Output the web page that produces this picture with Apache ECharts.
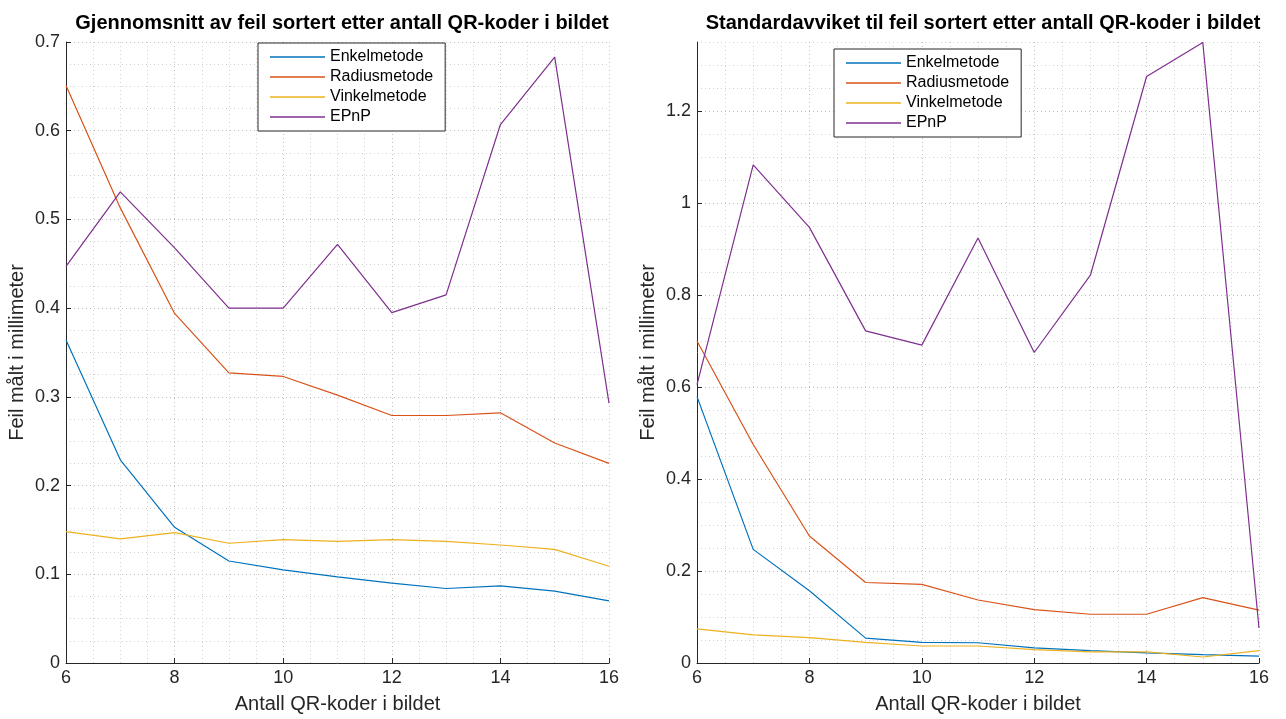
<!DOCTYPE html>
<html>
<head>
	<meta charset="utf-8" />
	<title>Feil sortert etter antall QR-koder</title>
	<script src="https://cdn.jsdelivr.net/npm/echarts@6/dist/echarts.min.js"></script>
</head>
<body style="margin:0;background:#fff;">
	<div id="main" style="width:1286px;height:719px;"></div>
	<script type="text/javascript">

		// antall QR-koder (x)
		var antall = [6, 7, 8, 9, 10, 11, 12, 13, 14, 15, 16];
		var navn = ['Enkelmetode', 'Radiusmetode', 'Vinkelmetode', 'EPnP'];
		var farger = ['#0072BD', '#D95319', '#EDB120', '#7E2F8E'];

		// gjennomsnitt (venstre)
		var snittEnkel  = [0.364, 0.229, 0.153, 0.115, 0.105, 0.097, 0.090, 0.084, 0.087, 0.081, 0.070];
		var snittRadius = [0.651, 0.513, 0.394, 0.327, 0.323, 0.302, 0.279, 0.279, 0.282, 0.248, 0.225];
		var snittVinkel = [0.148, 0.140, 0.147, 0.135, 0.139, 0.137, 0.139, 0.137, 0.133, 0.128, 0.109];
		var snittEPnP   = [0.447, 0.531, 0.468, 0.400, 0.400, 0.472, 0.395, 0.415, 0.607, 0.683, 0.293];

		// standardavvik (hoyre)
		var stdEnkel  = [0.579, 0.247, 0.157, 0.054, 0.045, 0.044, 0.033, 0.027, 0.022, 0.018, 0.015];
		var stdRadius = [0.700, 0.475, 0.276, 0.175, 0.171, 0.137, 0.116, 0.106, 0.106, 0.142, 0.115];
		var stdVinkel = [0.074, 0.061, 0.055, 0.045, 0.037, 0.037, 0.029, 0.024, 0.024, 0.013, 0.027];
		var stdEPnP   = [0.605, 1.083, 0.947, 0.722, 0.691, 0.924, 0.675, 0.843, 1.275, 1.349, 0.076];

		var myChart = echarts.init(document.getElementById('main'));

		var tekstFarge = '#262626';
		var font = 'Liberation Sans, Arial, Helvetica, sans-serif';
		var prikk = [1, 3];

		function par(ys) {
			return antall.map(function(x, i) { return [x, ys[i]]; });
		}

		function lag(i, ys, idx) {
			return {
				name: navn[i],
				type: 'line',
				xAxisIndex: idx,
				yAxisIndex: idx,
				data: par(ys),
				symbol: 'none',
				smooth: false,
				color: farger[i],
				lineStyle: { width: 1.2, color: farger[i] },
				z: 3
			};
		}

		function xAkse(idx) {
			return {
				gridIndex: idx,
				type: 'value',
				min: 6, max: 16, interval: 2,
				name: 'Antall QR-koder i bildet',
				nameLocation: 'middle',
				nameGap: 31,
				nameTextStyle: { color: tekstFarge, fontSize: 20, fontFamily: font },
				axisLine: { show: true, lineStyle: { color: tekstFarge, width: 1 } },
				axisTick: { show: true, inside: true, length: 5, lineStyle: { color: tekstFarge } },
				axisLabel: { color: tekstFarge, fontSize: 18, fontFamily: font, margin: 6 },
				splitLine: { show: true, lineStyle: { type: prikk, color: '#bdbdbd', width: 1 } },
				minorTick: { show: false, splitNumber: 4 },
				minorSplitLine: { show: true, lineStyle: { type: prikk, color: '#d2d2d2', width: 1 } }
			};
		}

		function yAkse(idx, max, interval) {
			return {
				gridIndex: idx,
				type: 'value',
				min: 0, max: max, interval: interval,
				name: 'Feil målt i millimeter',
				nameLocation: 'middle',
				nameGap: 39,
				nameTextStyle: { color: tekstFarge, fontSize: 20, fontFamily: font },
				axisLine: { show: true, lineStyle: { color: tekstFarge, width: 1 } },
				axisTick: { show: true, inside: true, length: 5, lineStyle: { color: tekstFarge } },
				axisLabel: { color: tekstFarge, fontSize: 18, fontFamily: font, margin: 6, showMaxLabel: idx === 0 },
				splitLine: { show: true, lineStyle: { type: prikk, color: '#bdbdbd', width: 1 } },
				minorTick: { show: false, splitNumber: 4 },
				minorSplitLine: { show: true, lineStyle: { type: prikk, color: '#d2d2d2', width: 1 } }
			};
		}

		function legende(left, top) {
			return {
				data: navn,
				orient: 'vertical',
				left: left,
				top: top,
				backgroundColor: '#fff',
				borderColor: tekstFarge,
				borderWidth: 1,
				padding: [6, 12, 6, 12],
				icon: 'rect',
				itemWidth: 55,
				itemHeight: 1.5,
				itemGap: 4,
				selectedMode: false,
				textStyle: { color: '#000', fontSize: 16, fontFamily: font }
			};
		}

		var option = {
			backgroundColor: '#fff',
			animation: false,
			title: [
				{
					text: 'Gjennomsnitt av feil sortert etter antall QR-koder i bildet',
					left: 337, top: 8, textAlign: 'center',
					textStyle: { color: '#000', fontSize: 20, fontWeight: 'bold', fontFamily: font }
				},
				{
					text: 'Standardavviket til feil sortert etter antall QR-koder i bildet',
					left: 978, top: 8, textAlign: 'center',
					textStyle: { color: '#000', fontSize: 20, fontWeight: 'bold', fontFamily: font }
				}
			],
			legend: [legende(258, 43), legende(834, 49)],
			grid: [
				{ left: 66, right: 677, top: 42, bottom: 52 },
				{ left: 697, right: 27, top: 42, bottom: 53 }
			],
			xAxis: [xAkse(0), xAkse(1)],
			yAxis: [yAkse(0, 0.7, 0.1), yAkse(1, 1.35, 0.2)],
			series: [
				lag(0, snittEnkel, 0),
				lag(1, snittRadius, 0),
				lag(2, snittVinkel, 0),
				lag(3, snittEPnP, 0),
				lag(0, stdEnkel, 1),
				lag(1, stdRadius, 1),
				lag(2, stdVinkel, 1),
				lag(3, stdEPnP, 1)
			]
		};

		myChart.setOption(option);

	</script>
</body>
</html>
